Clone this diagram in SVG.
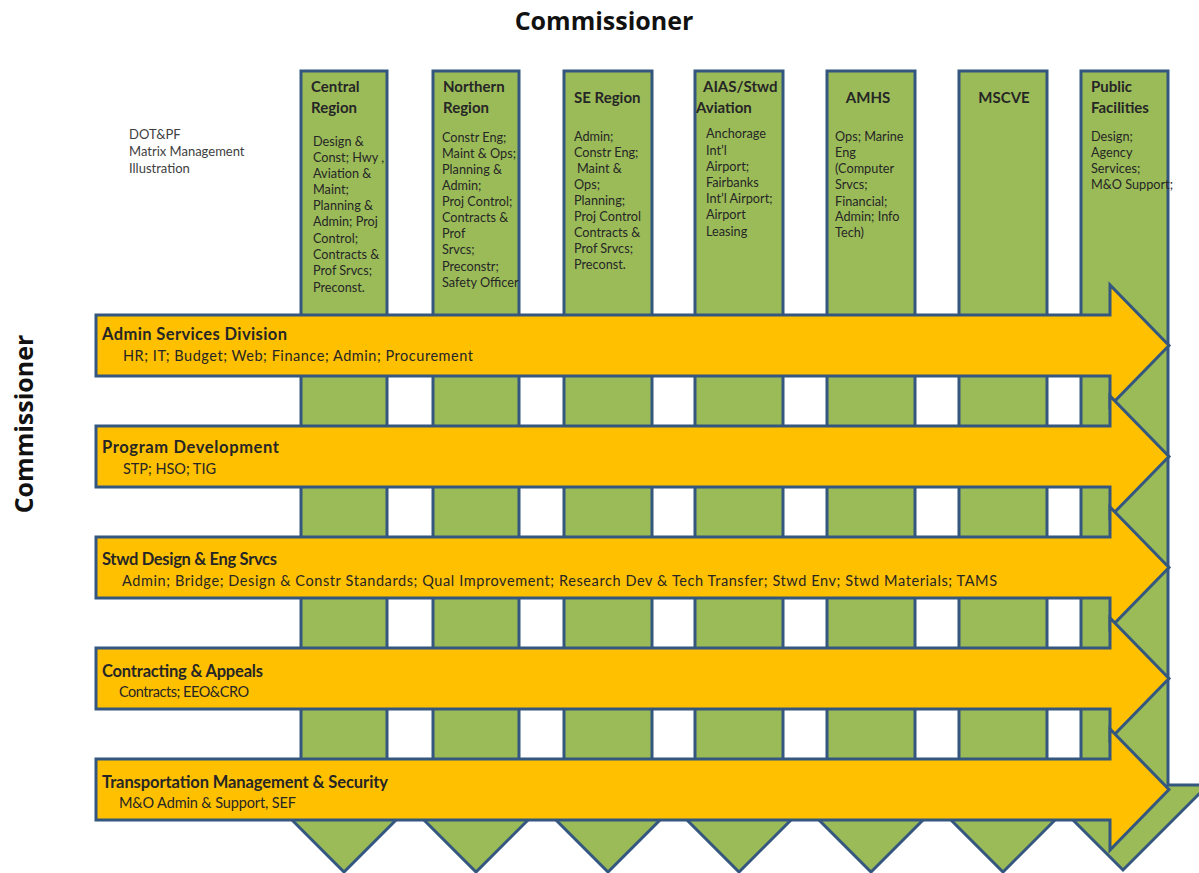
<svg xmlns="http://www.w3.org/2000/svg" width="1199" height="873" viewBox="0 0 1199 873" xml:space="preserve">
<style>
.col{fill:#9BBB59;stroke:#34577F;stroke-width:3;stroke-linejoin:miter}
.arr{fill:#FFC000;stroke:#34577F;stroke-width:3;stroke-linejoin:miter}
.ct{font-family:Lato,"Open Sans",sans-serif;font-weight:bold;font-size:15px;fill:#262626}
.cb{font-family:Lato,"Open Sans",sans-serif;font-size:12.7px;fill:#262626}
.at{font-family:Lato,"Open Sans",sans-serif;font-weight:bold;font-size:16.5px;fill:#262626}
.ab{font-family:Lato,"Open Sans",sans-serif;font-size:14.5px;fill:#262626}
.big{font-family:"Open Sans",sans-serif;font-weight:bold;font-size:25px;fill:#111}
.note{font-family:Lato,"Open Sans",sans-serif;font-size:13px;fill:#404040}
</style>
<rect width="1199" height="873" fill="#fff"/>
<text class="big" x="604" y="30" text-anchor="middle">Commissioner</text>
<text class="big" transform="translate(33,424) rotate(-90)" text-anchor="middle">Commissioner</text>
<text class="note"><tspan x="129" y="139">DOT&amp;PF</tspan><tspan x="129" y="156">Matrix Management</tspan><tspan x="129" y="173">Illustration</tspan></text>

<g id="col-central">
<path class="col" d="M301 71H387V785H431L344 872L257 785H301Z"/>
<text class="ct"><tspan x="311" y="92">Central</tspan><tspan x="311" y="113">Region</tspan></text>
<text class="cb"><tspan x="313" y="146">Design &amp;</tspan><tspan x="313" y="162">Const; Hwy ,</tspan><tspan x="313" y="178">Aviation &amp;</tspan><tspan x="313" y="194">Maint;</tspan><tspan x="313" y="210">Planning &amp;</tspan><tspan x="313" y="226">Admin; Proj</tspan><tspan x="313" y="243">Control;</tspan><tspan x="313" y="259">Contracts &amp;</tspan><tspan x="313" y="275">Prof Srvcs;</tspan><tspan x="313" y="292">Preconst.</tspan></text>
</g>
<g id="col-northern">
<path class="col" d="M433 71H519V785H563L476 872L389 785H433Z"/>
<text class="ct"><tspan x="443" y="92">Northern</tspan><tspan x="443" y="113">Region</tspan></text>
<text class="cb"><tspan x="442" y="142">Constr Eng;</tspan><tspan x="442" y="158">Maint &amp; Ops;</tspan><tspan x="442" y="174">Planning &amp;</tspan><tspan x="442" y="190">Admin;</tspan><tspan x="442" y="206">Proj Control;</tspan><tspan x="442" y="222">Contracts &amp;</tspan><tspan x="442" y="238">Prof</tspan><tspan x="442" y="254">Srvcs;</tspan><tspan x="442" y="271">Preconstr;</tspan><tspan x="442" y="287">Safety Officer</tspan></text>
</g>
<g id="col-se">
<path class="col" d="M564 71H652V785H695L608 872L521 785H564Z"/>
<text class="ct" x="574" y="103">SE Region</text>
<text class="cb"><tspan x="574" y="141">Admin;</tspan><tspan x="574" y="157">Constr Eng;</tspan><tspan x="577" y="173">Maint &amp;</tspan><tspan x="574" y="189">Ops;</tspan><tspan x="574" y="205">Planning;</tspan><tspan x="574" y="221">Proj Control</tspan><tspan x="574" y="237">Contracts &amp;</tspan><tspan x="574" y="253">Prof Srvcs;</tspan><tspan x="574" y="269">Preconst.</tspan></text>
</g>
<g id="col-aias">
<path class="col" d="M695 71H783V785H826L739 872L652 785H695Z"/>
<text class="ct"><tspan x="703" y="92">AIAS/Stwd</tspan><tspan x="696" y="113">Aviation</tspan></text>
<text class="cb"><tspan x="706" y="138">Anchorage</tspan><tspan x="706" y="155">Int’l</tspan><tspan x="706" y="171">Airport;</tspan><tspan x="706" y="187">Fairbanks</tspan><tspan x="706" y="203">Int’l Airport;</tspan><tspan x="706" y="219">Airport</tspan><tspan x="706" y="236">Leasing</tspan></text>
</g>
<g id="col-amhs">
<path class="col" d="M827 71H915V785H958L871 872L784 785H827Z"/>
<text class="ct" x="868" y="103" text-anchor="middle">AMHS</text>
<text class="cb"><tspan x="835" y="141">Ops; Marine</tspan><tspan x="835" y="157">Eng</tspan><tspan x="835" y="173">(Computer</tspan><tspan x="835" y="189">Srvcs;</tspan><tspan x="835" y="206">Financial;</tspan><tspan x="835" y="221">Admin; Info</tspan><tspan x="835" y="237">Tech)</tspan></text>
</g>
<g id="col-mscve">
<path class="col" d="M959 71H1047V785H1090L1003 872L916 785H959Z"/>
<text class="ct" x="1004" y="103" text-anchor="middle">MSCVE</text>
</g>
<g id="col-public">
<path class="col" d="M1081 71H1168V785H1208L1123 870L1038 785H1081Z"/>
<text class="ct"><tspan x="1091" y="92">Public</tspan><tspan x="1091" y="113">Facilities</tspan></text>
<text class="cb"><tspan x="1091" y="141">Design;</tspan><tspan x="1091" y="157">Agency</tspan><tspan x="1091" y="173">Services;</tspan><tspan x="1091" y="189">M&amp;O Support;</tspan></text>
</g>

<g id="connectors">
<g id="row-admin">
<path class="arr" d="M96 315H1110V285L1169 345.5L1110 406V376H96Z"/>
<text class="at" x="102" y="340" textLength="185">Admin Services Division</text>
<text class="ab" x="123" y="361" textLength="350">HR; IT; Budget;  Web; Finance; Admin; Procurement</text>
</g>
<g id="row-program">
<path class="arr" d="M96 426H1110V396L1169 456.5L1110 517V487H96Z"/>
<text class="at" x="102" y="453" textLength="177">Program Development</text>
<text class="ab" x="123" y="474" textLength="93">STP; HSO; TIG</text>
</g>
<g id="row-design">
<path class="arr" d="M96 537H1110V507L1169 567.5L1110 628V598H96Z"/>
<text class="at" x="102" y="565" textLength="175">Stwd Design &amp; Eng Srvcs</text>
<text class="ab" x="122" y="586" textLength="875">Admin; Bridge; Design &amp; Constr Standards; Qual Improvement;  Research Dev &amp; Tech Transfer; Stwd Env; Stwd Materials; TAMS</text>
</g>
<g id="row-contracting">
<path class="arr" d="M96 648H1110V618L1169 678.5L1110 739V709H96Z"/>
<text class="at" x="102" y="677" textLength="161">Contracting &amp; Appeals</text>
<text class="ab" x="119" y="697" textLength="130">Contracts; EEO&amp;CRO</text>
</g>
<g id="row-transport">
<path class="arr" d="M96 759H1110V729L1169 789.5L1110 850V820H96Z"/>
<text class="at" x="102" y="788" textLength="286">Transportation Management &amp; Security</text>
<text class="ab" x="119" y="808" textLength="177">M&amp;O Admin &amp; Support, SEF</text>
</g>
</g>
</svg>
